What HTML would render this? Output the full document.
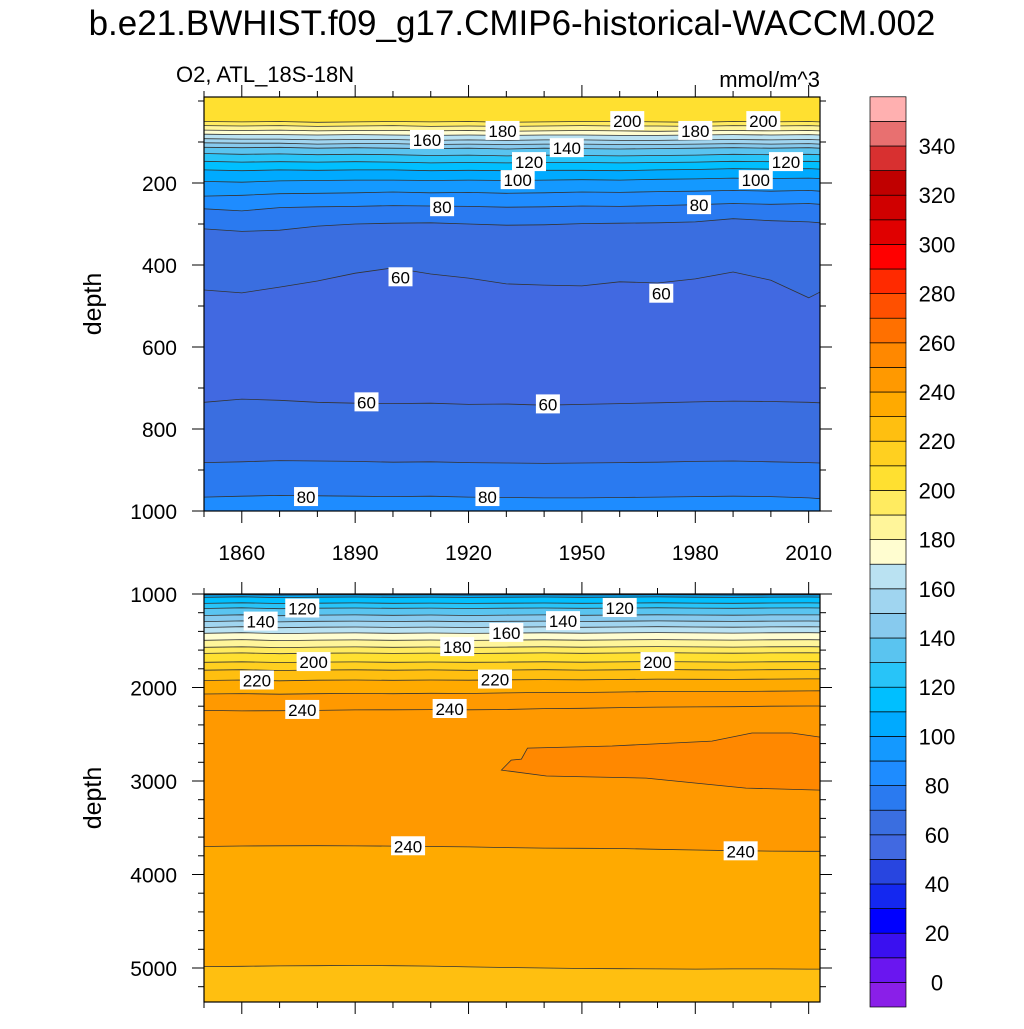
<!DOCTYPE html>
<html><head><meta charset="utf-8"><style>
body{margin:0;background:#fff;}
svg text{font-family:"Liberation Sans",sans-serif;}
</style></head><body>
<svg id="fig" width="1024" height="1024" xmlns="http://www.w3.org/2000/svg">
<rect width="1024" height="1024" fill="#fff"/>
<text x="512" y="35" font-size="35" text-anchor="middle">b.e21.BWHIST.f09_g17.CMIP6-historical-WACCM.002</text>
<text x="176" y="82" font-size="22">O2, ATL_18S-18N</text>
<text x="820" y="87" font-size="22" text-anchor="end">mmol/m^3</text>
<g id="top"></g>
<g id="bot"></g>
<g id="cbar"></g>
</svg>
<script>
const NS="http://www.w3.org/2000/svg";
// ---- data ----
const years=[1850,1860,1870,1880,1890,1900,1910,1920,1930,1940,1950,1960,1970,1980,1990,2000,2010,2013];
const levels=[0,10,20,30,40,50,60,70,80,90,100,110,120,130,140,150,160,170,180,190,200,210,220,230,240,250,260,270,280,290,300,310,320,330,340,350];
const bandColors=["#8a1fe8","#6a16f0","#3a10f0","#0000ff","#1428f0","#2845e0","#4169e1","#3a6ee0","#2a7af0","#1e8cff","#1499ff","#00aaff","#00bfff","#28c4f8","#5ac4f0","#87caee","#a0d5f0","#bae2f2","#fffdd0","#fff59a","#ffeb60","#ffe030","#ffd020","#ffbf10","#ffaa00","#ff9900","#ff8800","#ff7000","#ff5000","#ff2a00","#ff0000","#e00000","#d00000","#c00000","#d83030","#e87070","#ffb0b0"];
const cbarLabels=[0,20,40,60,80,100,120,140,160,180,200,220,240,260,280,300,320,340];
const topLevels=[200,190,180,170,160,150,140,130,120,110,100,90,80,70,60,60,70,80];
const topBelow=[190,180,170,160,150,140,130,120,110,100,90,80,70,60,50,60,70,80];
const top200=[50,51,50,52,51,50,51,50,52,51,50,50,51,52,50,51,50,51];
const top190=[60,61,60,62,61,60,62,61,62,61,60,61,61,62,60,61,60,61];
const top180=[71,72,71,73,72,72,73,72,74,73,72,73,74,73,72,73,72,73];
const top170=[81,82,82,83,82,83,84,83,84,83,83,84,84,83,82,83,82,83];
const top160=[92,93,93,95,94,94,96,95,96,95,95,96,96,95,94,95,94,95];
const top150=[102,103,103,105,104,104,106,105,106,105,105,106,106,105,104,105,104,105];
const top140=[113,114,113,115,114,115,116,115,117,115,116,117,116,115,114,115,114,115];
const top130=[128,130,129,131,130,131,133,132,134,132,133,134,133,132,130,131,130,131];
const top120=[147,149,148,149,148,149,151,150,151,150,150,151,150,149,147,148,147,148];
const top110=[168,170,168,169,168,168,170,169,170,169,169,170,168,167,165,166,165,166];
const top100=[196,198,195,194,193,193,194,193,194,193,192,193,191,190,188,189,188,189];
const top90=[232,230,226,225,224,222,224,223,225,224,222,223,221,220,218,220,218,220];
const top80=[263,268,260,258,257,255,256,257,259,258,256,257,255,253,250,252,250,252];
const top70=[312,318,315,305,300,298,297,300,303,302,299,298,297,295,287,292,295,297];
const top60a=[461,468,454,439,420,407,422,432,446,449,451,441,444,434,417,437,480,466];
const top60b=[735,727,730,735,737,738,737,740,739,742,740,738,736,734,732,733,735,736];
const top70b=[882,880,877,878,879,881,880,882,883,884,883,882,881,879,878,880,882,883];
const top80b=[966,964,962,963,964,965,964,966,967,968,968,967,966,965,964,965,968,970];
const topLines=[top200,top190,top180,top170,top160,top150,top140,top130,top120,top110,top100,top90,top80,top70,top60a,top60b,top70b,top80b];
const botLevels=[90,100,110,120,130,140,150,160,170,180,190,200,210,220,230,240,240,230];
const botBelow=[100,110,120,130,140,150,160,170,180,190,200,210,220,230,240,240,230,220];
const bot90=[1010,1008,1012,1010,1009,1011,1010,1012,1010,1009,1011,1010,1008,1010,1012,1010,1009,1010];
const bot100=[1035,1030,1038,1034,1032,1035,1033,1036,1034,1032,1035,1033,1031,1034,1036,1033,1032,1033];
const bot110=[1100,1094,1102,1098,1095,1099,1097,1100,1098,1096,1099,1097,1094,1097,1099,1096,1095,1096];
const bot120=[1155,1148,1157,1152,1150,1153,1151,1155,1152,1150,1153,1151,1148,1151,1153,1150,1149,1150];
const bot130=[1230,1222,1232,1226,1224,1228,1225,1230,1226,1224,1228,1225,1222,1225,1227,1224,1223,1224];
const bot140=[1295,1288,1298,1292,1290,1294,1291,1296,1292,1290,1294,1291,1288,1291,1293,1290,1289,1290];
const bot150=[1358,1350,1360,1355,1353,1357,1354,1358,1355,1352,1356,1353,1350,1353,1355,1352,1351,1352];
const bot160=[1420,1414,1424,1418,1416,1420,1417,1421,1418,1415,1419,1416,1413,1416,1418,1415,1414,1415];
const bot170=[1495,1488,1498,1493,1491,1495,1492,1496,1493,1490,1494,1491,1488,1491,1493,1490,1489,1490];
const bot180=[1570,1565,1573,1568,1566,1570,1567,1571,1568,1565,1569,1566,1563,1566,1568,1565,1564,1565];
const bot190=[1635,1630,1638,1633,1631,1635,1632,1636,1633,1630,1634,1631,1628,1631,1633,1630,1629,1630];
const bot200=[1730,1725,1733,1728,1726,1730,1727,1731,1728,1725,1729,1726,1723,1726,1728,1725,1724,1725];
const bot210=[1815,1810,1818,1813,1811,1815,1812,1816,1813,1810,1814,1811,1808,1811,1813,1810,1809,1810];
const bot220=[1925,1920,1928,1922,1920,1923,1920,1922,1918,1915,1918,1914,1910,1912,1913,1910,1908,1908];
const bot230=[2070,2065,2072,2066,2063,2066,2062,2064,2058,2052,2054,2048,2043,2044,2043,2040,2036,2035];
const bot240=[2245,2250,2248,2245,2240,2238,2236,2238,2235,2226,2222,2215,2210,2208,2205,2200,2198,2198];
const bot240b=[3700,3695,3693,3692,3694,3696,3700,3705,3712,3718,3720,3722,3730,3738,3745,3750,3752,3752];
const bot230b=[4985,4982,4978,4975,4972,4975,4980,4988,4995,5000,5005,5008,5010,5012,5010,5010,5012,5012];
const botLines=[bot90,bot100,bot110,bot120,bot130,bot140,bot150,bot160,bot170,bot180,bot190,bot200,bot210,bot220,bot230,bot240,bot240b,bot230b];
const patchYears=[1928.7,1931.3,1934,1935.6,1958,1984.4,1995,2005.5,2013,2013,1993.4,1967,1940.6,1928.7];
const patchDepths=[2883,2776,2766,2648,2626,2573,2487,2487,2530,3097,3076,2969,2947,2883];
const topLabelText=["200","200","180","180","160","140","120","120","100","100","80","80","60","60","60","60","80","80"];
const topLabelYear=[1962,1998,1929,1980,1909,1946,1936,2004,1933,1996,1913,1981,1902,1971,1893,1941,1877,1925];
const topLabelDepth=[49,49,73,73,95,115,149,149,193,193,259,254,430,470,735,740,966,966];
const botLabelText=["120","140","120","140","160","180","200","200","220","220","240","240","240","240"];
const botLabelYear=[1876,1865,1960,1945,1930,1917,1879,1970,1864,1927,1876,1915,1904,1992];
const botLabelDepth=[1155,1295,1150,1290,1416,1568,1728,1728,1925,1915,2240,2230,3698,3752];
const xTickYears=[1860,1890,1920,1950,1980,2010];
const topYTicks=[200,400,600,800,1000];
const botYTicks=[1000,2000,3000,4000,5000];
// ---- layout ----
const X0=204,X1=820;
const xs=y=>X0+(y-1850)*(X1-X0)/(2013-1850);
const topY=d=>101+d*0.41, TY0=97,TY1=511;
const botY=d=>594+(d-1000)*0.0935, BY0=594,BY1=1002;
const colorOf=v=>bandColors[levels.indexOf(v)+1];
function el(tag,attrs,parent){const e=document.createElementNS(NS,tag);for(const k in attrs)e.setAttribute(k,attrs[k]);parent.appendChild(e);return e;}
function panel(g,ys,y0,y1,topColorVal,lines,lvls,below,clipId){
  const defs=el('defs',{},g);const cp=el('clipPath',{id:clipId},defs);el('rect',{x:X0,y:y0,width:X1-X0,height:y1-y0},cp);
  const cg=el('g',{'clip-path':'url(#'+clipId+')'},g);
  const bg=el('rect',{x:X0,y:y0,width:X1-X0,height:y1-y0,fill:colorOf(topColorVal)},cg);
  
  
  lines.forEach((arr,i)=>{
    const pts=arr.map((d,j)=>xs(years[j]).toFixed(1)+','+ys(d).toFixed(1));
    const poly=el('polygon',{points:pts.join(' ')+' '+X1+','+(y1+5)+' '+X0+','+(y1+5),fill:colorOf(below[i])},cg);
    
    
  });
  return cg;
}
function contourLines(cg,ys,lines,lvls){
  lines.forEach((arr,i)=>{
    const pl=el('polyline',{points:arr.map((d,j)=>xs(years[j]).toFixed(1)+','+ys(d).toFixed(1)).join(' '),fill:'none',stroke:'#333','stroke-width':0.8},cg);
    
    
  });
}
function labels(g,ys,txt,yr,dp){
  txt.forEach((t,i)=>{
    const x=xs(yr[i]),y=ys(dp[i]);const w=t.length*10+4;
    const r=el('rect',{x:x-w/2,y:y-10,width:w,height:19,fill:'#fff'},g);
    
    
    const tx=el('text',{x:x,y:y+6,'font-size':17,'text-anchor':'middle'},g);tx.textContent=t;
    
    
  });
}
function axes(g,ys,y0,y1,yt,minorStep,yMin,yMax,showX){
  el('rect',{x:X0,y:y0,width:X1-X0,height:y1-y0,fill:'none',stroke:'#000','stroke-width':1.2},g);
  for(let yr=1850;yr<=2013;yr+=10){const major=xTickYears.includes(yr);const L=major?12:6;const x=xs(yr);
    el('line',{x1:x,x2:x,y1:y0,y2:y0-L,stroke:'#000','stroke-width':1},g);
    el('line',{x1:x,x2:x,y1:y1,y2:y1+L,stroke:'#000','stroke-width':1},g);}
  for(let d=yMin;d<=yMax;d+=minorStep){const y=ys(d);if(y<y0-0.5||y>y1+0.5)continue;const major=yt.includes(d);const L=major?12:6;
    el('line',{x1:X0,x2:X0-L,y1:y,y2:y,stroke:'#000','stroke-width':1},g);
    el('line',{x1:X1,x2:X1+L,y1:y,y2:y,stroke:'#000','stroke-width':1},g);}
  yt.forEach(d=>{const t=el('text',{x:177,y:ys(d)+8,'font-size':21,'text-anchor':'end'},g);t.textContent=d;
    
    });
  if(showX)xTickYears.forEach(yr=>{const t=el('text',{x:xs(yr),y:560,'font-size':21,'text-anchor':'middle'},g);t.textContent=yr;
    
    });
  const yl=el('text',{x:0,y:0,'font-size':25,'text-anchor':'middle',transform:'translate(101,'+((y0+y1)/2)+') rotate(-90)'},g);yl.textContent='depth';
  
  
}
const gT=document.getElementById('top'),gB=document.getElementById('bot');
let c=panel(gT,topY,TY0,TY1,200,topLines,topLevels,topBelow,'ct');
contourLines(c,topY,topLines,topLevels);labels(c,topY,topLabelText,topLabelYear,topLabelDepth);
axes(gT,topY,TY0,TY1,topYTicks,100,0,1000,true);
c=panel(gB,botY,BY0,BY1,80,botLines,botLevels,botBelow,'cb');
const patch=el('polygon',{points:patchYears.map((y,i)=>xs(y).toFixed(1)+','+botY(patchDepths[i]).toFixed(1)).join(' '),fill:colorOf(250),stroke:'#333','stroke-width':0.8},c);


contourLines(c,botY,botLines,botLevels);labels(c,botY,botLabelText,botLabelYear,botLabelDepth);
axes(gB,botY,BY0,BY1,botYTicks,200,1000,5400,false);
// colorbar
const cb=document.getElementById('cbar');const CX=870,CW=36,CB0=1007,CH=24.6;
bandColors.forEach((col,i)=>{const r=el('rect',{x:CX,y:CB0-(i+1)*CH,width:CW,height:CH,fill:col,stroke:'#000','stroke-width':0.7},cb);
  
  });
cbarLabels.forEach(v=>{const i=levels.indexOf(v);const y=CB0-(i+1)*CH;const t=el('text',{x:937,y:y+8,'font-size':22,'text-anchor':'middle'},cb);t.textContent=v;
  
  });
</script>
</body></html>
